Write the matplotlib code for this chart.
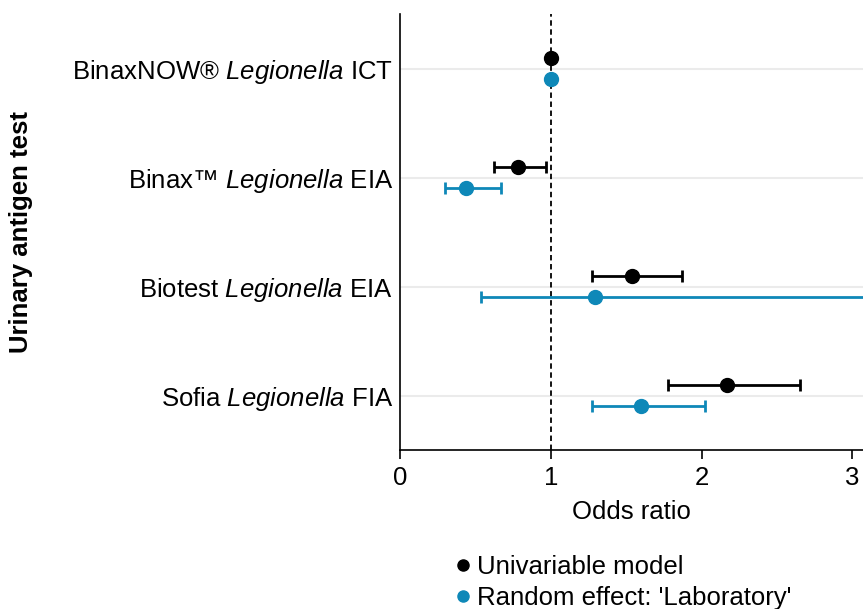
import matplotlib.pyplot as plt
from matplotlib.lines import Line2D

plt.rcParams['font.family'] = ['Liberation Sans', 'DejaVu Sans']
plt.rcParams['mathtext.fontset'] = 'custom'
plt.rcParams['mathtext.rm'] = 'Liberation Sans'
plt.rcParams['mathtext.it'] = 'Liberation Sans:italic'

# Data
tests = [r"BinaxNOW® $\it{Legionella}$ ICT",
         r"Binax™ $\it{Legionella}$ EIA",
         r"Biotest $\it{Legionella}$ EIA",
         r"Sofia $\it{Legionella}$ FIA"]
uni_or = [1.0, 0.78, 1.54, 2.17]
uni_lo = [1.0, 0.62, 1.27, 1.78]
uni_hi = [1.0, 0.97, 1.87, 2.65]
lab_or = [1.0, 0.44, 1.29, 1.60]
lab_lo = [1.0, 0.30, 0.54, 1.27]
lab_hi = [1.0, 0.67, 3.10, 2.02]

black = "#000000"
blue = "#0e88b8"
fs = 18.5

ypos = [4, 3, 2, 1]
fig = plt.figure(figsize=(8.63, 6.09), dpi=100)
ax = fig.add_axes([0.4635, 0.261, 0.5365, 0.716])

for y in ypos:
    ax.axhline(y, color="#ebebeb", lw=1.5, zorder=0)
ax.axvline(1, color="black", ls=(0, (3, 2)), lw=1.3, zorder=1)

def draw(vals, lo, hi, off, col):
    ys = [y + off for y in ypos]
    for v, l, h, yy in zip(vals, lo, hi, ys):
        if h > l:
            ax.errorbar(v, yy, xerr=[[v - l], [h - v]], fmt="none", ecolor=col,
                        elinewidth=2, capsize=4.5, capthick=2, zorder=2)
    ax.plot(vals, ys, "o", color=col, ms=10, zorder=3)

draw(uni_or, uni_lo, uni_hi, 0.1, black)
draw(lab_or, lab_lo, lab_hi, -0.1, blue)

ax.set_xlim(0, 3.07)
ax.set_ylim(0.5, 4.5)
ax.set_xticks([0, 1, 2, 3])
ax.set_yticks(ypos)
ax.set_yticklabels(tests)
ax.tick_params(axis="y", length=0, pad=5, labelsize=fs)
ax.tick_params(axis="x", length=6.5, width=1.2, labelsize=fs, pad=5)
ax.spines[["top", "right"]].set_visible(False)
ax.spines[["left", "bottom"]].set_linewidth(1.2)
ax.set_xlabel("Odds ratio", fontsize=fs, labelpad=7)
fig.text(0.024, 0.619, "Urinary antigen test", rotation=90, fontsize=fs,
         fontweight="bold", ha="center", va="center")

handles = [Line2D([], [], ls="none", marker="o", color=black, ms=8),
           Line2D([], [], ls="none", marker="o", color=blue, ms=8)]
fig.legend(handles, ["Univariable model", "Random effect: 'Laboratory'"],
           loc="upper left", bbox_to_anchor=(0.51, 0.105), frameon=False,
           fontsize=fs, handletextpad=0.05, labelspacing=0.25,
           borderaxespad=0, handlelength=1.0)

fig.savefig("out.png", dpi=100)
